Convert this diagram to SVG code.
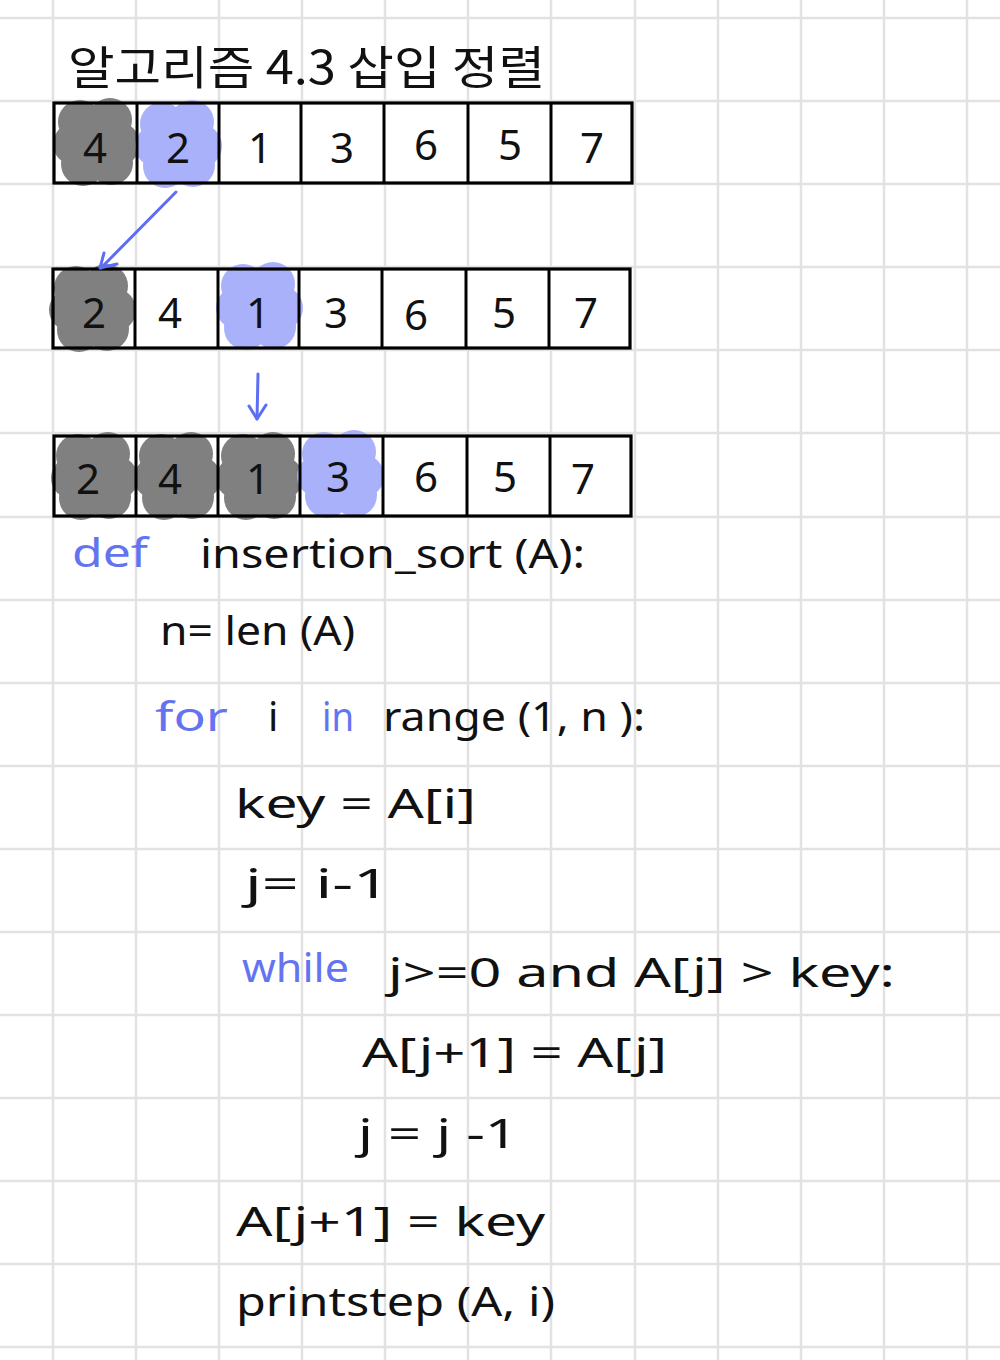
<svg xmlns="http://www.w3.org/2000/svg" xmlns:xlink="http://www.w3.org/1999/xlink" width="1000" height="1360" viewBox="0 0 1000 1360">
<style>
.grid line{stroke:#e2e2e2;stroke-width:2.5}
.cell{fill:#fff;stroke:none}
.box{fill:none;stroke:#000;stroke-width:3.2}
.div{stroke:#000;stroke-width:3}
.num{font-family:"Noto Sans","DejaVu Sans",sans-serif;font-size:42px;fill:#111;text-anchor:middle}
.code{font-family:"Noto Sans","DejaVu Sans",sans-serif;font-size:40px;fill:#111}
.kw{font-family:"Noto Sans","DejaVu Sans",sans-serif;font-size:40px;fill:#6474f0}
.title{font-family:"Noto Sans CJK KR","Noto Sans",sans-serif;font-size:46px;fill:#111}
.arrow{stroke:#5d6ef2;stroke-width:3;fill:none;stroke-linecap:round;stroke-linejoin:round}
</style>
<defs>
<g id="blob">
<circle cx="0" cy="0" r="36"/>
<circle cx="-16" cy="-20" r="22"/>
<circle cx="14" cy="-22" r="22"/>
<circle cx="22" cy="2" r="22"/>
<circle cx="15" cy="21" r="22"/>
<circle cx="-13" cy="22" r="22"/>
<circle cx="-22" cy="2" r="21"/>
</g>
</defs>
<rect width="1000" height="1360" fill="#fff"/>
<g class="grid" id="grid">
<line x1="53" y1="0" x2="53" y2="1360"/><line x1="136" y1="0" x2="136" y2="1360"/><line x1="219" y1="0" x2="219" y2="1360"/><line x1="302" y1="0" x2="302" y2="1360"/><line x1="385" y1="0" x2="385" y2="1360"/><line x1="468" y1="0" x2="468" y2="1360"/><line x1="551" y1="0" x2="551" y2="1360"/><line x1="635" y1="0" x2="635" y2="1360"/><line x1="718" y1="0" x2="718" y2="1360"/><line x1="801" y1="0" x2="801" y2="1360"/><line x1="884" y1="0" x2="884" y2="1360"/><line x1="967" y1="0" x2="967" y2="1360"/>
<line x1="0" y1="18" x2="1000" y2="18"/><line x1="0" y1="101" x2="1000" y2="101"/><line x1="0" y1="184" x2="1000" y2="184"/><line x1="0" y1="267" x2="1000" y2="267"/><line x1="0" y1="350" x2="1000" y2="350"/><line x1="0" y1="433" x2="1000" y2="433"/><line x1="0" y1="517" x2="1000" y2="517"/><line x1="0" y1="600" x2="1000" y2="600"/><line x1="0" y1="683" x2="1000" y2="683"/><line x1="0" y1="766" x2="1000" y2="766"/><line x1="0" y1="849" x2="1000" y2="849"/><line x1="0" y1="932" x2="1000" y2="932"/><line x1="0" y1="1015" x2="1000" y2="1015"/><line x1="0" y1="1098" x2="1000" y2="1098"/><line x1="0" y1="1181" x2="1000" y2="1181"/><line x1="0" y1="1264" x2="1000" y2="1264"/><line x1="0" y1="1347" x2="1000" y2="1347"/>
</g>
<g id="title"><text class="title" x="68" y="84" textLength="477" lengthAdjust="spacingAndGlyphs">알고리즘 4.3 삽입 정렬</text></g>

<g id="array1">
<rect class="cell" x="54" y="103" width="578" height="80"/>
<use xlink:href="#blob" x="96" y="142" fill="#808080"/>
<use xlink:href="#blob" x="178" y="144" fill="#aab1fb"/>
<rect class="box" x="54" y="103" width="578" height="80"/>
<line class="div" x1="137" y1="103" x2="137" y2="183"/><line class="div" x1="219" y1="103" x2="219" y2="183"/><line class="div" x1="301" y1="103" x2="301" y2="183"/><line class="div" x1="384" y1="103" x2="384" y2="183"/><line class="div" x1="468" y1="103" x2="468" y2="183"/><line class="div" x1="551" y1="103" x2="551" y2="183"/>
<text class="num" x="95" y="163">4</text><text class="num" x="178" y="163">2</text><text class="num" x="260" y="163">1</text><text class="num" x="342" y="163">3</text><text class="num" x="426" y="160">6</text><text class="num" x="510" y="160">5</text><text class="num" x="592" y="163">7</text>
</g>

<g id="array2">
<rect class="cell" x="53" y="269" width="577" height="79"/>
<use xlink:href="#blob" x="92" y="308" fill="#808080"/>
<use xlink:href="#blob" x="259" y="306" fill="#aab1fb"/>
<rect class="box" x="53" y="269" width="577" height="79"/>
<line class="div" x1="135" y1="269" x2="135" y2="348"/><line class="div" x1="218" y1="269" x2="218" y2="348"/><line class="div" x1="299" y1="269" x2="299" y2="348"/><line class="div" x1="382" y1="269" x2="382" y2="348"/><line class="div" x1="466" y1="269" x2="466" y2="348"/><line class="div" x1="549" y1="269" x2="549" y2="348"/>
<text class="num" x="94" y="328">2</text><text class="num" x="170" y="328">4</text><text class="num" x="258" y="328">1</text><text class="num" x="336" y="328">3</text><text class="num" x="416" y="330">6</text><text class="num" x="504" y="328">5</text><text class="num" x="586" y="328">7</text>
</g>

<g id="array3">
<rect class="cell" x="54" y="436" width="577" height="80"/>
<use xlink:href="#blob" x="94" y="476" fill="#808080"/>
<use xlink:href="#blob" x="177" y="476" fill="#808080"/>
<use xlink:href="#blob" x="259" y="476" fill="#808080"/>
<use xlink:href="#blob" x="340" y="474" fill="#aab1fb"/>
<rect class="box" x="54" y="436" width="577" height="80"/>
<line class="div" x1="136" y1="436" x2="136" y2="516"/><line class="div" x1="218" y1="436" x2="218" y2="516"/><line class="div" x1="300" y1="436" x2="300" y2="516"/><line class="div" x1="383" y1="436" x2="383" y2="516"/><line class="div" x1="467" y1="436" x2="467" y2="516"/><line class="div" x1="550" y1="436" x2="550" y2="516"/>
<text class="num" x="88" y="494">2</text><text class="num" x="170" y="494">4</text><text class="num" x="258" y="494">1</text><text class="num" x="338" y="492">3</text><text class="num" x="426" y="492">6</text><text class="num" x="505" y="492">5</text><text class="num" x="583" y="494">7</text>
</g>

<g id="connectors">
<path class="arrow" d="M176,192 L101,268"/>
<path class="arrow" d="M104,253 L100,268 L117,264"/>
<path class="arrow" d="M258,374 L257,419"/>
<path class="arrow" d="M249,406 L257,419 L266,405"/>
</g>

<g id="code">
<text class="kw" x="72" y="567" textLength="76" lengthAdjust="spacingAndGlyphs">def</text>
<text class="code" x="200" y="568" textLength="385" lengthAdjust="spacingAndGlyphs">insertion_sort (A):</text>
<text class="code" x="160" y="645" textLength="195" lengthAdjust="spacingAndGlyphs">n= len (A)</text>
<text class="kw" x="155" y="731" textLength="73" lengthAdjust="spacingAndGlyphs">for</text>
<text class="code" x="268" y="731">i</text>
<text class="kw" x="322" y="731" textLength="32" lengthAdjust="spacingAndGlyphs">in</text>
<text class="code" x="383" y="731" textLength="262" lengthAdjust="spacingAndGlyphs">range (1, n ):</text>
<text class="code" x="235" y="818" textLength="241" lengthAdjust="spacingAndGlyphs">key = A[i]</text>
<text class="code" x="245" y="898" textLength="145" lengthAdjust="spacingAndGlyphs">j= i-1</text>
<text class="kw" x="242" y="982" textLength="107" lengthAdjust="spacingAndGlyphs">while</text>
<text class="code" x="388" y="987" textLength="507" lengthAdjust="spacingAndGlyphs">j&gt;=0 and A[j] &gt; key:</text>
<text class="code" x="362" y="1067" textLength="305" lengthAdjust="spacingAndGlyphs">A[j+1] = A[j]</text>
<text class="code" x="358" y="1148" textLength="160" lengthAdjust="spacingAndGlyphs">j = j -1</text>
<text class="code" x="236" y="1236" textLength="309" lengthAdjust="spacingAndGlyphs">A[j+1] = key</text>
<text class="code" x="236" y="1316" textLength="319" lengthAdjust="spacingAndGlyphs">printstep (A, i)</text>
</g>
</svg>
